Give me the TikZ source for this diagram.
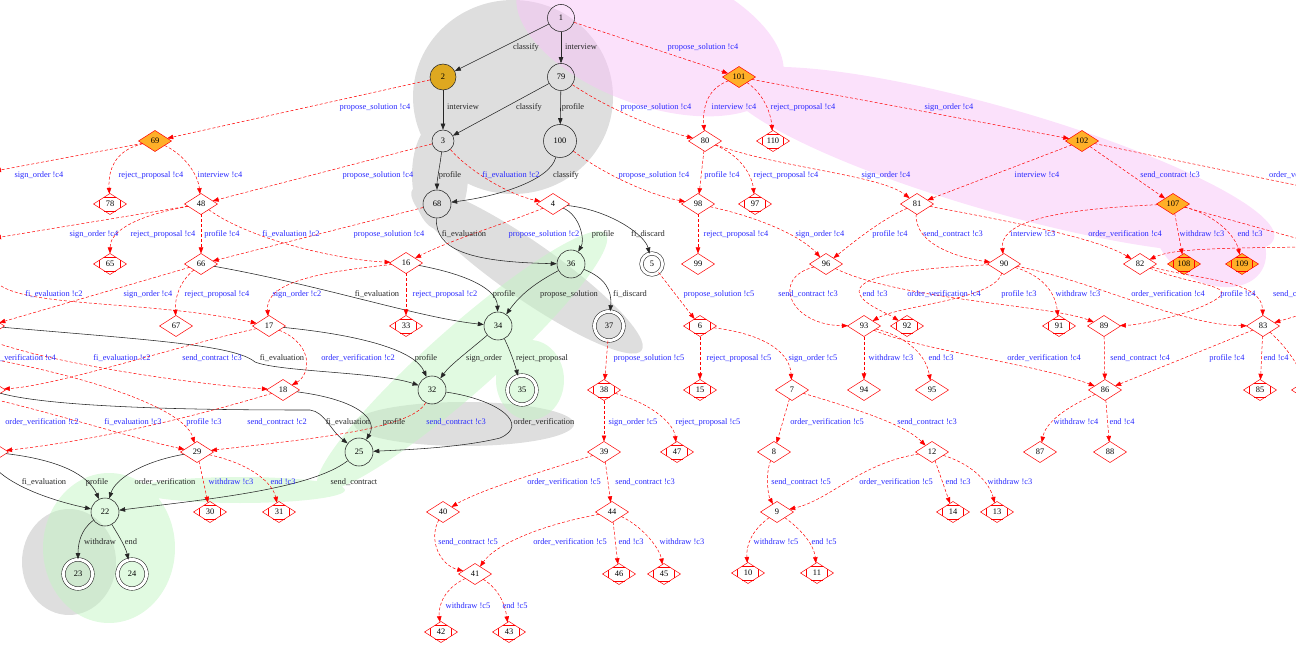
\documentclass[tikz,border=0pt]{standalone}
\usepackage{fontspec}
\setmainfont{Liberation Serif}
\usetikzlibrary{shapes.geometric,arrows.meta,calc}
\definecolor{lblue}{RGB}{40,40,255}
\definecolor{gfill}{RGB}{195,195,195}
\definecolor{grfill}{RGB}{195,245,195}
\definecolor{pfill}{RGB}{248,195,248}
\definecolor{orfill}{RGB}{255,175,40}
\definecolor{gold}{RGB}{222,168,32}
\newcommand\lf{\fontsize{8.4}{10}\selectfont}
\tikzset{
 lab/.style={font=\lf, inner sep=0pt, text=black!85},
 blab/.style={lab, text=lblue},
 st/.style={circle, draw=black!85, line width=.55pt, inner sep=0pt, minimum size=28pt, font=\lf},
 fin/.style={st, double, double distance=3pt, minimum size=29pt},
 dm/.style={diamond, draw=red, line width=.5pt, inner sep=0pt, outer sep=0pt, minimum width=33pt, minimum height=21pt, font=\lf},
 odm/.style={dm, fill=orfill},
 be/.style={-{Triangle[length=6pt,width=4.5pt]}, line width=.55pt, draw=black!85},
 re/.style={-{Triangle[length=6pt,width=4.5pt]}, line width=.5pt, draw=red, dash pattern=on 3pt off 2pt},
}
\begin{document}
\begin{tikzpicture}[x=1pt,y=-1pt]
\useasboundingbox (0,0) rectangle (1296,652);
\clip (0,0) rectangle (1296,652);
% ---------- background clusters
\fill[gfill, fill opacity=.55] (513,97) ellipse (100 and 97)
  (440,175) ellipse (28 and 55)
  {[rotate around={-35:(527,270)}] (527,270) ellipse (140 and 28)}
  (464,424) ellipse (110 and 22)
  (69,562) ellipse (47 and 53);
\fill[grfill, fill opacity=.5] {[rotate around={41.6:(462,361)}] (462,361) ellipse (192 and 33)}
  (530,380) ellipse (34 and 40)
  (109,548) ellipse (66 and 75)
  (240,490) ellipse (105 and 13);
\fill[pfill, fill opacity=.5] {[rotate around={-20:(650,35)}] (650,35) ellipse (140 and 70)}
  {[rotate around={-16:(1000,160)}] (1000,160) ellipse (285 and 52)}
  {[rotate around={-30:(1210,240)}] (1210,240) ellipse (60 and 42)};
% ---------- state nodes
\node[st, minimum size=27pt] (n1) at (561,18) {1};
\node[st, minimum size=26pt, fill=gold] (n2) at (443,77) {2};
\node[st, minimum size=27pt] (n79) at (561,77) {79};
\node[st, minimum size=22pt] (n3) at (443,141) {3};
\node[st, minimum size=33pt] (n100) at (560,141) {100};
\node[st] (n68) at (437,204) {68};
\node[st] (n36) at (571,264) {36};
\node[st] (n34) at (498,326) {34};
\node[st] (n32) at (432,390) {32};
\node[st] (n25) at (359,452) {25};
\node[st] (n22) at (105,512) {22};
\node[fin, minimum size=21pt] (n5) at (652,264) {5};
\node[fin] (n37) at (609,326) {37};
\node[fin] (n35) at (522,390) {35};
\node[fin] (n23) at (78,574) {23};
\node[fin] (n24) at (132,574) {24};
% diamonds
\foreach \n/\x/\y in {4/553/204, 16/406/263, 17/269/326, 18/283/390, 29/197/452, 66/201/264, 67/176/326, 48/201/204,
  80/705/141, 98/698/204, 99/698/264, 81/917/204, 96/826/264, 90/1004/264, 82/1140/264, 93/864/326, 89/1104/326,
  83/1263/326, 86/1105/390, 87/1040/452, 88/1110/452, 94/864/390, 95/932/390, 7/792/390, 8/774/452, 12/932/452,
  9/777/512, 39/604/452, 40/443/512, 44/612/512, 41/475/574}
  \node[dm] (n\n) at (\x,\y) {\n};
\foreach \n/\x/\y in {69/155/141, 101/739/77, 102/1082/141, 107/1173/204}
  \node[odm] (n\n) at (\x,\y) {\n};
\foreach \n/\x/\y in {78/110/204, 65/110/264, 33/406/326, 110/773/141, 97/755/204, 92/907/326, 91/1059/326,
  85/1260/390, 6/700/326, 15/700/390, 38/604/390, 47/677/452, 30/210/512, 31/279/512, 46/619/574, 45/664/574,
  42/441/632, 43/509/632, 10/748/573, 11/817/573, 14/953/512, 13/997/512}
  \node[dm] (n\n) at (\x,\y) {\n};
\foreach \n/\x/\y in {108/1184/264, 109/1242/264}
  \node[odm] (n\n) at (\x,\y) {\n};
% nodes partly outside the frame
\node[dm] (nL1) at (-12,326) {};
\node[dm] (nL2) at (-11,390) {};
\node[dm] (nL3) at (-8,452) {};
\node[dm] (nR1) at (1308,390) {};
\coordinate (oL1) at (-5,171);
\coordinate (oL2) at (-5,238);
\coordinate (oL3) at (-3,283);
\coordinate (oL4) at (-3,343);
\coordinate (oL5) at (-3,360);
\coordinate (oL6) at (-3,400);
\coordinate (oL7) at (-3,470);
\coordinate (oR1) at (1310,188);
\coordinate (oR2) at (1310,242);
\coordinate (oR3) at (1310,247);
\coordinate (oR4) at (1310,312);
% Mdiamond corner marks
\foreach \n in {78,65,33,110,97,92,91,85,6,15,38,47,30,31,46,45,42,43,10,11,14,13,108,109}
  \draw[red, line width=.5pt]
   ($(n\n.north)!.35!(n\n.west)$) -- ($(n\n.north)!.35!(n\n.east)$)
   ($(n\n.south)!.35!(n\n.west)$) -- ($(n\n.south)!.35!(n\n.east)$)
   ($(n\n.west)!.35!(n\n.north)$) -- ($(n\n.west)!.35!(n\n.south)$)
   ($(n\n.east)!.35!(n\n.north)$) -- ($(n\n.east)!.35!(n\n.south)$);
% ---------- black transitions
\draw[be] (n1) -- (n2);
\draw[be] (n1) -- (n79);
\draw[be] (n2) -- (n3);
\draw[be] (n79) -- (n3);
\draw[be] (n79) -- (n100);
\draw[be] (n3) .. controls (440,165) and (437,180) .. (n68);
\draw[be] (n100) .. controls (550,180) and (500,196) .. (n68);
\draw[be] (n4) .. controls (610,210) and (645,235) .. (n5);
\draw[be] (n4) .. controls (580,215) and (585,240) .. (n36);
\draw[be] (n68) .. controls (435,250) and (470,262) .. (n36);
\draw[be] (n36) .. controls (605,278) and (612,290) .. (n37);
\draw[be] (n36) .. controls (535,283) and (520,295) .. (n34);
\draw[be] (n16) .. controls (470,275) and (497,290) .. (n34);
\draw[be] (n66) .. controls (320,285) and (420,318) .. (n34);
\draw[be] (n34) .. controls (470,350) and (450,365) .. (n32);
\draw[be] (n34) .. controls (510,350) and (515,365) .. (n35);
\draw[be] (n17) .. controls (360,335) and (415,350) .. (n32);
\draw[be] (nL1) .. controls (150,340) and (235,345) .. (255,362) .. controls (280,372) and (380,372) .. (n32);
\draw[be] (n32) .. controls (500,400) and (530,425) .. (500,438) .. controls (460,448) and (400,450) .. (n25);
\draw[be] (n18) .. controls (360,400) and (378,420) .. (n25);
\draw[be] (nL2) .. controls (60,410) and (250,410) .. (310,410) .. controls (325,412) and (330,430) .. (n25);
\draw[be] (n25) .. controls (310,490) and (200,500) .. (n22);
\draw[be] (n29) .. controls (140,462) and (115,480) .. (n22);
\draw[be] (nL3) .. controls (60,460) and (88,475) .. (n22);
\draw[be] (oL7) .. controls (15,487) and (50,500) .. (n22);
\draw[be] (n22) .. controls (80,530) and (78,545) .. (n23);
\draw[be] (n22) .. controls (115,530) and (125,545) .. (n24);
% ---------- red (dashed) transitions
\draw[re] (n1) -- (n101);
\draw[re] (n2) -- (n69);
\draw[re] (n69) -- (oL1);
\draw[re] (n69) .. controls (115,150) and (108,170) .. (n78);
\draw[re] (n69) .. controls (185,155) and (198,175) .. (n48);
\draw[re] (n3) -- (n48);
\draw[re] (n3) .. controls (470,172) and (510,195) .. (n4);
\draw[re] (n79) .. controls (610,110) and (660,130) .. (n80);
\draw[re] (n100) .. controls (605,175) and (650,195) .. (n98);
\draw[re] (n101) .. controls (703,90) and (703,115) .. (n80);
\draw[re] (n101) .. controls (765,95) and (771,115) .. (n110);
\draw[re] (n101) -- (n102);
\draw[re] (n80) -- (n98);
\draw[re] (n80) .. controls (740,155) and (752,175) .. (n97);
\draw[re] (n80) .. controls (780,168) and (880,175) .. (n81);
\draw[re] (n102) -- (n81);
\draw[re] (n102) -- (n107);
\draw[re] (n102) -- (oR1);
\draw[re] (n4) .. controls (510,222) and (450,240) .. (n16);
\draw[re] (n48) .. controls (250,240) and (340,260) .. (n16);
\draw[re] (n68) -- (n66);
\draw[re] (n48) -- (oL2);
\draw[re] (n48) .. controls (125,218) and (110,235) .. (n65);
\draw[re] (n48) -- (n66);
\draw[re] (n66) -- (nL1);
\draw[re] (n66) .. controls (178,283) and (175,300) .. (n67);
\draw[re] (n16) -- (n33);
\draw[re] (n16) .. controls (320,272) and (265,282) .. (n17);
\draw[re] (oL3) .. controls (25,308) and (150,300) .. (n17);
\draw[re] (n17) .. controls (180,345) and (60,385) .. (nL2);
\draw[re] (oL4) .. controls (60,365) and (200,385) .. (n18);
\draw[re] (n17) .. controls (315,345) and (310,375) .. (n18);
\draw[re] (n18) .. controls (200,415) and (100,440) .. (nL3);
\draw[re] (n32) .. controls (412,430) and (300,440) .. (n29);
\draw[re] (oL5) .. controls (100,380) and (185,410) .. (n29);
\draw[re] (oL6) .. controls (60,415) and (140,440) .. (n29);
\draw[re] (n29) -- (n30);
\draw[re] (n29) .. controls (255,465) and (273,485) .. (n31);
\draw[re] (n37) -- (n38);
\draw[re] (n38) .. controls (655,405) and (674,425) .. (n47);
\draw[re] (n38) -- (n39);
\draw[re] (n39) .. controls (540,472) and (480,490) .. (n40);
\draw[re] (n39) -- (n44);
\draw[re] (n40) .. controls (428,540) and (440,565) .. (n41);
\draw[re] (n44) .. controls (540,525) and (495,545) .. (n41);
\draw[re] (n44) -- (n46);
\draw[re] (n44) .. controls (645,528) and (660,550) .. (n45);
\draw[re] (n41) .. controls (445,588) and (438,605) .. (n42);
\draw[re] (n41) .. controls (500,590) and (505,605) .. (n43);
\draw[re] (n5) -- (n6);
\draw[re] (n6) -- (n15);
\draw[re] (n6) .. controls (770,335) and (790,355) .. (n7);
\draw[re] (n7) -- (n8);
\draw[re] (n7) .. controls (860,410) and (905,425) .. (n12);
\draw[re] (n8) .. controls (765,475) and (768,495) .. (n9);
\draw[re] (n12) .. controls (860,463) and (830,500) .. (n9);
\draw[re] (n12) -- (n14);
\draw[re] (n12) .. controls (975,465) and (990,485) .. (n13);
\draw[re] (n9) .. controls (752,530) and (746,545) .. (n10);
\draw[re] (n9) .. controls (802,530) and (814,545) .. (n11);
\draw[re] (n98) -- (n99);
\draw[re] (n98) .. controls (770,220) and (805,240) .. (n96);
\draw[re] (n81) .. controls (880,220) and (850,245) .. (n96);
\draw[re] (n81) .. controls (914,245) and (960,258) .. (n90);
\draw[re] (n107) .. controls (1040,210) and (1000,225) .. (n90);
\draw[re] (n81) .. controls (1030,225) and (1100,240) .. (n82);
\draw[re] (n107) -- (n108);
\draw[re] (n107) .. controls (1215,215) and (1235,235) .. (n109);
\draw[re] (n107) -- (oR2);
\draw[re] (oR3) .. controls (1200,248) and (1170,250) .. (n82);
\draw[re] (n82) .. controls (1200,280) and (1262,280) .. (n83);
\draw[re] (n82) .. controls (1190,285) and (1240,285) .. (1215,300) .. controls (1190,315) and (1140,325) .. (n89);
\draw[re] (n90) .. controls (1090,280) and (1180,325) .. (n83);
\draw[re] (n90) .. controls (1040,275) and (1055,290) .. (n91);
\draw[re] (n90) .. controls (995,300) and (900,305) .. (n93);
\draw[re] (n90) .. controls (920,268) and (850,275) .. (860,295) .. controls (865,305) and (885,312) .. (n92);
\draw[re] (n96) .. controls (770,278) and (790,325) .. (n93);
\draw[re] (n96) .. controls (900,300) and (1050,305) .. (n89);
\draw[re] (n93) .. controls (920,350) and (1040,365) .. (n86);
\draw[re] (n93) -- (n94);
\draw[re] (n93) .. controls (900,335) and (925,350) .. (n95);
\draw[re] (n89) -- (n86);
\draw[re] (n83) -- (n86);
\draw[re] (n83) -- (n85);
\draw[re] (n83) .. controls (1290,350) and (1300,370) .. (nR1);
\draw[re] (oR4) -- (n83);
\draw[re] (n86) .. controls (1060,410) and (1045,425) .. (n87);
\draw[re] (n86) -- (n88);
% ---------- labels
\foreach \x/\y/\t [count=\i] in {526/47/classify, 581/47/interview, 463/107/interview, 529/107/classify,
  573/107/profile, 450/175/profile, 566/175/classify, 464/234/fi\_evaluation, 603/234/profile,
  648/234/fi\_discard, 377/294/fi\_evaluation, 504/294/profile, 569/294/propose\_solution,
  630/294/fi\_discard, 282/358/fi\_evaluation, 426/358/profile, 484/358/sign\_order,
  542/358/reject\_proposal, 348/422/fi\_evaluation, 394/422/profile, 544/422/order\_verification,
  44/482/fi\_evaluation, 97/482/profile, 165/482/order\_verification, 354/482/send\_contract,
  100/542/withdraw, 131/542/end}
  \node[lab] (k\i) at (\x,\y) {\t};
\foreach \x/\y/\t [count=\i] in {703/47/propose\_solution !c4,
  375/107/propose\_solution !c4, 656/107/propose\_solution !c4, 734/107/interview !c4, 803/107/reject\_proposal !c4, 949/107/sign\_order !c4,
  39/175/sign\_order !c4, 151/175/reject\_proposal !c4, 220/175/interview !c4, 378/175/propose\_solution !c4, 511/175/fi\_evaluation !c2,
  654/175/propose\_solution !c4, 722/175/profile !c4, 786/175/reject\_proposal !c4, 886/175/sign\_order !c4, 1037/175/interview !c4,
  1170/175/send\_contract !c3,
  94/234/sign\_order !c4, 163/234/reject\_proposal !c4, 222/234/profile !c4, 291/234/fi\_evaluation !c2, 389/234/propose\_solution !c4,
  544/234/propose\_solution !c2, 736/234/reject\_proposal !c4, 820/234/sign\_order !c4, 890/234/profile !c4, 953/234/send\_contract !c3,
  1033/234/interview !c3, 1125/234/order\_verification !c4, 1202/234/withdraw !c3, 1250/234/end !c3,
  54/294/fi\_evaluation !c2, 148/294/sign\_order !c4, 217/294/reject\_proposal !c4, 297/294/sign\_order !c2, 445/294/reject\_proposal !c2,
  719/294/propose\_solution !c5, 808/294/send\_contract !c3, 875/294/end !c3, 944/294/order\_verification !c4, 1019/294/profile !c3,
  1078/294/withdraw !c3, 1168/294/order\_verification !c4, 1238/294/profile !c4,
  122/358/fi\_evaluation !c2, 212/358/send\_contract !c3, 358/358/order\_verification !c2, 649/358/propose\_solution !c5,
  739/358/reject\_proposal !c5, 813/358/sign\_order !c5, 891/358/withdraw !c3, 941/358/end !c3, 1044/358/order\_verification !c4,
  1140/358/send\_contract !c4, 1227/358/profile !c4, 1276/358/end !c4,
  42/422/order\_verification !c2, 133/422/fi\_evaluation !c3, 204/422/profile !c3, 277/422/send\_contract !c2, 456/422/send\_contract !c3,
  633/422/sign\_order !c5, 708/422/reject\_proposal !c5, 827/422/order\_verification !c5, 927/422/send\_contract !c3, 1076/422/withdraw !c4,
  1122/422/end !c4,
  231/482/withdraw !c3, 283/482/end !c3, 564/482/order\_verification !c5, 645/482/send\_contract !c3, 801/482/send\_contract !c5,
  896/482/order\_verification !c5, 958/482/end !c3, 1010/482/withdraw !c3,
  468/542/send\_contract !c5, 570/542/order\_verification !c5, 631/542/end !c3, 682/542/withdraw !c3, 776/542/withdraw !c5, 824/542/end !c5,
  468/606/withdraw !c5, 515/606/end !c5}
  \node[blab] (b\i) at (\x,\y) {\t};
\node[blab, anchor=west] (bx1) at (1269,175) {order\_verification !c4};
\node[blab, anchor=west] (bx2) at (1273,294) {send\_contract !c4};
\node[blab, anchor=east] (bx3) at (56,358) {order\_verification !c4};
\end{tikzpicture}
\end{document}
